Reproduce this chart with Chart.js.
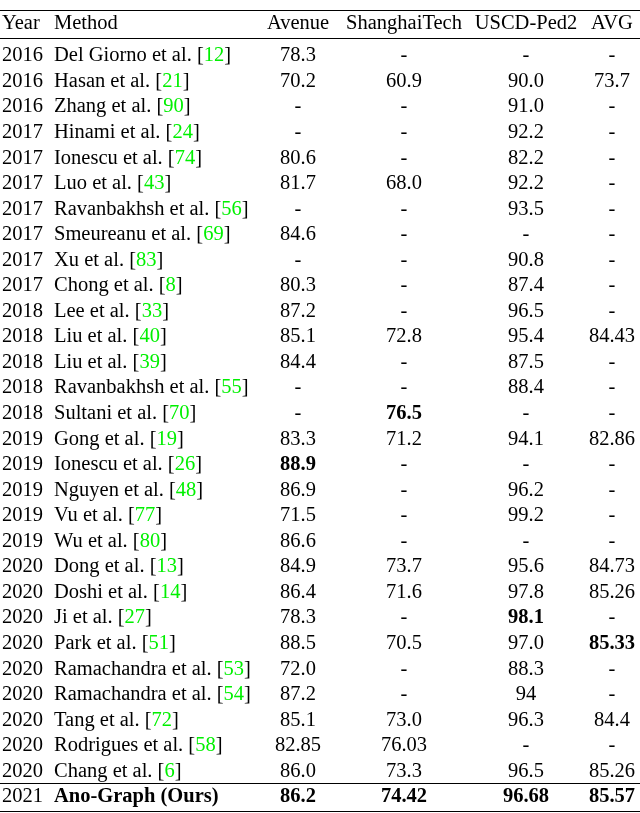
<!DOCTYPE html>
<html><head><meta charset="utf-8">
<script src="https://cdn.jsdelivr.net/npm/chart.js@4"></script>
<style>body{margin:0;background:#fff}#wrap{width:640px;height:813px}</style>
</head><body><div id="wrap"><canvas id="c"></canvas></div>
<script>
const headers = ['Year', 'Method', 'Avenue', 'ShanghaiTech', 'USCD-Ped2', 'AVG'];
const years = ['2016','2016','2016','2017','2017','2017','2017','2017','2017','2017','2018','2018','2018','2018','2018','2019','2019','2019','2019','2019','2020','2020','2020','2020','2020','2020','2020','2020','2020','2021'];
const methods = ['Del Giorno et al.','Hasan et al.','Zhang et al.','Hinami et al.','Ionescu et al.','Luo et al.','Ravanbakhsh et al.','Smeureanu et al.','Xu et al.','Chong et al.','Lee et al.','Liu et al.','Liu et al.','Ravanbakhsh et al.','Sultani et al.','Gong et al.','Ionescu et al.','Nguyen et al.','Vu et al.','Wu et al.','Dong et al.','Doshi et al.','Ji et al.','Park et al.','Ramachandra et al.','Ramachandra et al.','Tang et al.','Rodrigues et al.','Chang et al.','Ano-Graph (Ours)'];
const refs = ['12','21','90','24','74','43','56','69','83','8','33','40','39','55','70','19','26','48','77','80','13','14','27','51','53','54','72','58','6',''];
const avenue = ['78.3','70.2','-','-','80.6','81.7','-','84.6','-','80.3','87.2','85.1','84.4','-','-','83.3','88.9','86.9','71.5','86.6','84.9','86.4','78.3','88.5','72.0','87.2','85.1','82.85','86.0','86.2'];
const shanghai = ['-','60.9','-','-','-','68.0','-','-','-','-','-','72.8','-','-','76.5','71.2','-','-','-','-','73.7','71.6','-','70.5','-','-','73.0','76.03','73.3','74.42'];
const ped2 = ['-','90.0','91.0','92.2','82.2','92.2','93.5','-','90.8','87.4','96.5','95.4','87.5','88.4','-','94.1','-','96.2','99.2','-','95.6','97.8','98.1','97.0','88.3','94','96.3','-','96.5','96.68'];
const avg = ['-','73.7','-','-','-','-','-','-','-','-','-','84.43','-','-','-','82.86','-','-','-','-','84.73','85.26','-','85.33','-','-','84.4','-','85.26','85.57'];
// bold cells: [row, column]
const boldCells = [[16,2],[14,3],[22,4],[23,5]];
const ruleRows = [-1.8, -0.7, 28.45, 29.55];

const colX = [2, 54, 298, 404, 526, 612];
const FONT = '"Liberation Serif", "DejaVu Serif", serif';
const SIZE = '20.5px ';

const tablePlugin = {
  id: 'table',
  afterDraw(chart) {
    const ctx = chart.ctx, xs = chart.scales.x, ys = chart.scales.y;
    ctx.save();
    ctx.textBaseline = 'middle';
    ctx.strokeStyle = '#000';
    ruleRows.forEach(r => {
      const y = Math.round(ys.getPixelForValue(r)) + 0.5;
      ctx.lineWidth = 1;
      ctx.beginPath(); ctx.moveTo(xs.getPixelForValue(0), y); ctx.lineTo(xs.getPixelForValue(640), y); ctx.stroke();
    });
    const put = (txt, col, row, bold) => {
      ctx.font = (bold ? 'bold ' : '') + SIZE + FONT;
      ctx.fillStyle = '#000';
      ctx.textAlign = col < 2 ? 'left' : 'center';
      ctx.fillText(txt, xs.getPixelForValue(colX[col]), ys.getPixelForValue(row));
    };
    headers.forEach((h, c) => put(h, c, -1.25, false));
    const cols = [avenue, shanghai, ped2, avg];
    years.forEach((yr, i) => {
      const last = i === years.length - 1;
      put(yr, 0, i, false);
      ctx.font = (last ? 'bold ' : '') + SIZE + FONT;
      ctx.textAlign = 'left';
      ctx.fillStyle = '#000';
      let x = xs.getPixelForValue(colX[1]);
      const y = ys.getPixelForValue(i);
      ctx.fillText(methods[i], x, y);
      if (refs[i]) {
        x += ctx.measureText(methods[i] + ' ').width;
        ctx.fillText('[', x, y); x += ctx.measureText('[').width;
        ctx.fillStyle = '#00f000';
        ctx.fillText(refs[i], x, y); x += ctx.measureText(refs[i]).width;
        ctx.fillStyle = '#000';
        ctx.fillText(']', x, y);
      }
      cols.forEach((arr, k) => {
        const b = last || boldCells.some(bc => bc[0] === i && bc[1] === k + 2);
        put(arr[i], k + 2, i, b);
      });
    });
    ctx.restore();
  }
};

new Chart(document.getElementById('c'), {
  type: 'scatter',
  data: { datasets: [{ data: [] }] },
  options: {
    responsive: true, maintainAspectRatio: false, animation: false,
    layout: { padding: 0 },
    plugins: { legend: { display: false }, tooltip: { enabled: false } },
    scales: {
      x: { type: 'linear', min: 0, max: 640, display: false },
      y: { type: 'linear', min: -2.19, max: 29.63, reverse: true, display: false }
    }
  },
  plugins: [tablePlugin]
});
</script></body></html>
